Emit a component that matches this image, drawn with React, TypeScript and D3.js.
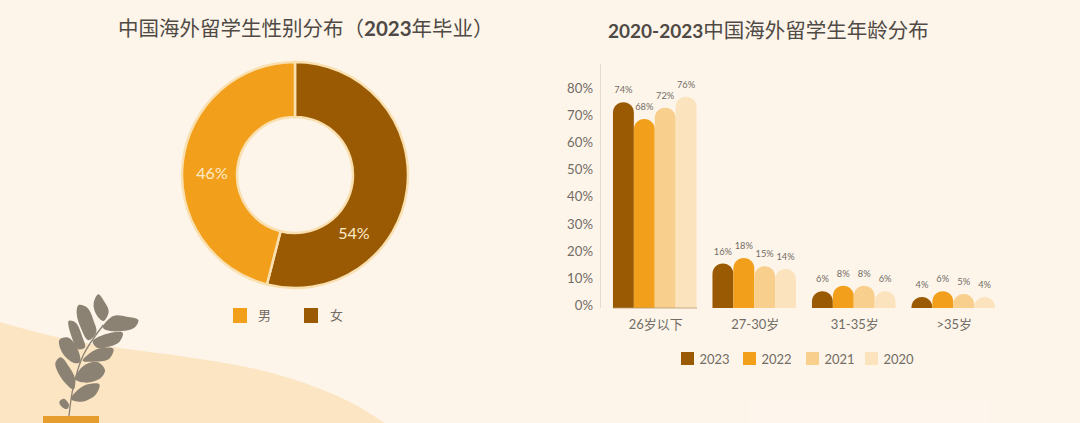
import React from "react";
import * as d3 from "d3";

const genderLabels = ["女", "男"];
const genderValues = [54, 46];
const genderColors = ["#9a5a03", "#f2a01c"];
const ageGroups = ["26岁以下", "27-30岁", "31-35岁", ">35岁"];
const years = ["2023", "2022", "2021", "2020"];
const yearColors = ["#9a5a03", "#f2a01c", "#f9cf8e", "#fae3bd"];
const series2023 = [74, 16, 6, 4];
const series2022 = [68, 18, 8, 6];
const series2021 = [72, 15, 8, 5];
const series2020 = [76, 14, 6, 4];
const yTicks = [0, 10, 20, 30, 40, 50, 60, 70, 80];
const allSeries = [series2023, series2022, series2021, series2020];
const font = "Lato,'Noto Sans CJK SC',sans-serif";
const textGrey = "#716c65";

// decorative plant outlines, in a 3x local space
const leaves: [number, number][][] = [
  [[175, 13], [192, 33], [206, 65], [190, 93], [168, 72], [161, 40]],
  [[116, 45], [142, 53], [162, 95], [169, 127], [145, 151], [123, 115], [110, 70]],
  [[188, 112], [220, 78], [260, 80], [295, 90], [282, 114], [235, 124], [198, 120]],
  [[86, 93], [107, 98], [127, 140], [135, 172], [115, 178], [93, 135]],
  [[158, 155], [195, 133], [248, 128], [237, 157], [200, 172], [175, 175]],
  [[58, 150], [85, 143], [112, 175], [120, 217], [100, 218], [68, 190]],
  [[128, 212], [170, 178], [220, 176], [207, 207], [160, 215]],
  [[46, 220], [62, 202], [87, 230], [105, 265], [101, 298], [68, 270]],
  [[106, 267], [130, 228], [172, 216], [195, 240], [182, 264], [140, 278]],
  [[93, 327], [130, 288], [178, 283], [167, 314], [125, 335]],
  [[58, 335], [72, 326], [87, 345], [81, 357], [66, 351]],
];
const stem: [number, number][] = [[87, 378], [100, 290], [130, 195], [190, 105]];
const hillPoints: [number, number][] = [[0, 322], [40, 333], [80, 342], [120, 348], [200, 359], [260, 370], [310, 385], [350, 402], [388, 425]];

function DomeBar({ x, w, y0, y1, fill }: { x: number; w: number; y0: number; y1: number; fill: string }) {
  const rx = w / 2;
  const ry = Math.min(w / 2, y0 - y1);
  const k = 0.56;
  const d = d3.path();
  d.moveTo(x, y0);
  d.lineTo(x, y1 + ry);
  d.bezierCurveTo(x, y1 + ry * (1 - k), x + rx * (1 - k), y1, x + rx, y1);
  d.bezierCurveTo(x + rx * (1 + k), y1, x + w, y1 + ry * (1 - k), x + w, y1 + ry);
  d.lineTo(x + w, y0);
  d.closePath();
  return <path d={d.toString()} fill={fill} />;
}

export default function App() {
  const width = 1080, height = 423;
  const pie = d3.pie<number>().sort(null).startAngle(0).endAngle(Math.PI * 2)(genderValues);
  const arc = d3.arc<d3.PieArcDatum<number>>().innerRadius(58).outerRadius(113);
  const yBar = d3.scaleLinear().domain([0, 80]).range([308, 85.6]);
  const yAxis = d3.scaleLinear().domain([0, 80]).range([305.5, 88]);
  const x0 = d3.scaleBand().domain(ageGroups).range([605, 1003]).paddingInner(0.16).paddingOuter(0.08);
  const x1 = d3.scaleBand().domain(years).range([0, x0.bandwidth()]);
  const hill = d3.line().curve(d3.curveCatmullRom)(hillPoints);
  const leafPath = d3.line().curve(d3.curveCatmullRomClosed);
  const stemPath = d3.line().curve(d3.curveCatmullRom);
  return (
    <svg width={width} height={height} viewBox="0 0 1080 423" style={{ position: "fixed", left: 0, top: 0, display: "block" }} fontFamily={font}>
      <rect width={width} height={height} fill="#fef5ea" />
      <path d={hill + "L0,423Z"} fill="#fbe5c3" />
      <rect x={750} y={400} width={240} height={23} fill="#fef6ec" />

      <text x={118} y={36} fontSize={20.5} fill="#4f4a45">中国海外留学生性别分布（<tspan fontWeight={700}>2023</tspan>年毕业）</text>
      <text x={608} y={38} fontSize={20.5} fill="#4f4a45"><tspan fontWeight={700} fontSize={19}>2020-2023</tspan>中国海外留学生年龄分布</text>

      <g transform="translate(295,175)">
        {pie.map((p, i) => (
          <path key={genderLabels[i]} d={arc(p) ?? ""} fill={genderColors[i]} stroke="#fae0b0" strokeWidth={2.5} />
        ))}
        <text x={59} y={63.5} textAnchor="middle" fontSize={16} fill="#fdebc8">{genderValues[0]}%</text>
        <text x={-83} y={4} textAnchor="middle" fontSize={16} fill="#fdebc8">{genderValues[1]}%</text>
      </g>

      <rect x={233} y={308} width={14} height={15} fill={genderColors[1]} />
      <text x={258} y={320} fontSize={13} fill={textGrey}>{genderLabels[1]}</text>
      <rect x={304} y={308} width={14} height={15} fill={genderColors[0]} />
      <text x={330} y={320} fontSize={13} fill={textGrey}>{genderLabels[0]}</text>

      <line x1={600.5} x2={600.5} y1={64} y2={308} stroke="#e6dccb" />
      {yTicks.map((t) => (
        <text key={t} x={593} y={yAxis(t)} dy="0.35em" textAnchor="end" fontSize={13.2} fill={textGrey}>{t}%</text>
      ))}
      {ageGroups.map((g, gi) => (
        <g key={g}>
          {years.map((yr, si) => {
            const v = allSeries[si][gi];
            const x = (x0(g) ?? 0) + (x1(yr) ?? 0);
            return (
              <g key={yr}>
                <DomeBar x={x} w={x1.bandwidth()} y0={308} y1={yBar(v)} fill={yearColors[si]} />
                <text x={x + x1.bandwidth() / 2} y={yBar(v) - 9} textAnchor="middle" fontSize={9.3} fill={textGrey}>{v}%</text>
              </g>
            );
          })}
          <text x={(x0(g) ?? 0) + x0.bandwidth() / 2 + 1} y={329} textAnchor="middle" fontSize={13} fill={textGrey}>{g}</text>
        </g>
      ))}
      <line x1={613} x2={697} y1={308} y2={308} stroke="#b89a6e" strokeWidth={0.8} />
      {years.map((yr, i) => {
        const lx = [681, 743, 806, 865][i];
        return (
          <g key={yr}>
            <rect x={lx} y={352} width={13} height={13} fill={yearColors[i]} />
            <text x={lx + 18.5} y={364} fontSize={13} fill={textGrey}>{yr}</text>
          </g>
        );
      })}

      <g transform="translate(40,290) scale(0.3333)">
        <path d={stemPath(stem) ?? ""} fill="none" stroke="#8c8273" strokeWidth={4} />
        {leaves.map((l, i) => (
          <path key={i} d={leafPath(l) ?? ""} fill="#8c8273" />
        ))}
      </g>
      <rect x={43} y={416} width={56} height={7} fill="#e79c2e" />
    </svg>
  );
}
